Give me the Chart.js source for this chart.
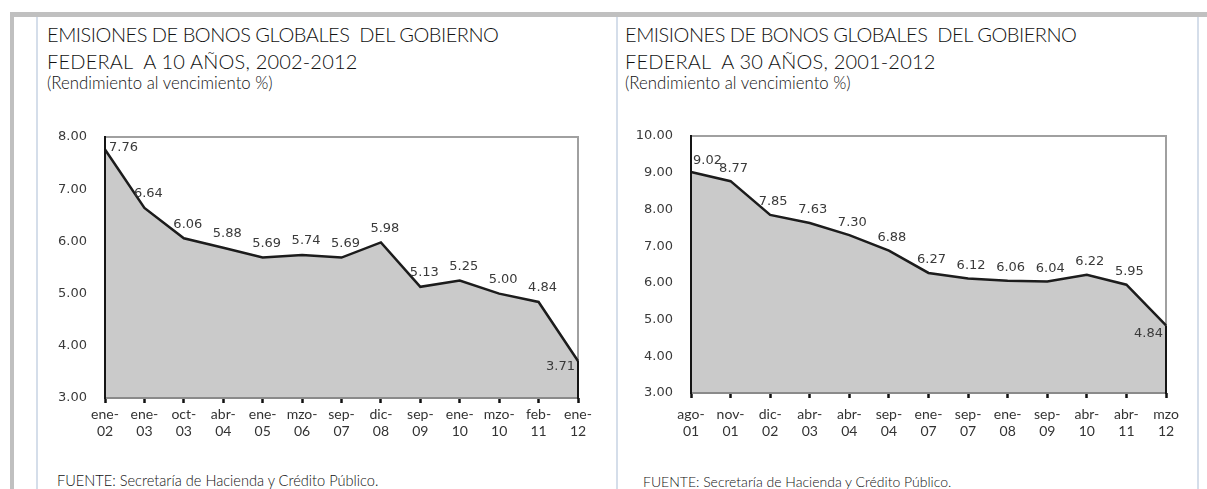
<!DOCTYPE html>
<html>
<head>
<meta charset="utf-8">
<script src="https://cdn.jsdelivr.net/npm/chart.js@4.4.1/dist/chart.umd.min.js"></script>
<style>
  html, body { margin:0; padding:0; background:#fff; }
  body { width:1207px; height:489px; position:relative; overflow:hidden; font-family:Lato, "Open Sans", sans-serif; color:#222; }
  .band { position:absolute; background:#c0c0c0; }
  .pline { position:absolute; background:#d5deea; }
  .title { position:absolute; font-size:20px; font-weight:300; line-height:27px; white-space:nowrap; color:#111; }
  .l1 { letter-spacing:-0.47px; }
  .l2 { letter-spacing:0.18px; }
  .sub { position:absolute; font-size:16.8px; font-weight:300; line-height:20px; white-space:nowrap; color:#111; }
  .src { position:absolute; font-size:14px; font-weight:300; line-height:18px; white-space:nowrap; color:#111; }
  canvas { position:absolute; }
</style>
</head>
<body>
<div class="band" style="left:10px;top:12px;width:1197px;height:5px;"></div>
<div class="band" style="left:10px;top:12px;width:4px;height:477px;"></div>
<div class="pline" style="left:36px;top:17px;width:2px;height:472px;"></div>
<div class="pline" style="left:616px;top:17px;width:2px;height:472px;"></div>
<div class="pline" style="left:1197px;top:17px;width:2px;height:472px;"></div>

<div class="title" style="left:47px;top:21px;"><span class="l1">EMISIONES DE BONOS GLOBALES&nbsp; DEL GOBIERNO</span><br><span class="l2">FEDERAL&nbsp; A 10 AÑOS, 2002-2012</span></div>
<div class="sub" style="left:47px;top:73px;">(Rendimiento al vencimiento %)</div>
<div class="src" style="left:57px;top:472px;font-size:14.6px;">FUENTE: Secretaría de Hacienda y Crédito Público.</div>

<div class="title" style="left:625px;top:21px;"><span class="l1">EMISIONES DE BONOS GLOBALES&nbsp; DEL GOBIERNO</span><br><span class="l2">FEDERAL&nbsp; A 30 AÑOS, 2001-2012</span></div>
<div class="sub" style="left:625px;top:73px;">(Rendimiento al vencimiento %)</div>
<div class="src" style="left:643px;top:473px;">FUENTE: Secretaría de Hacienda y Crédito Público.</div>

<canvas id="c10" width="560" height="332" style="left:40px;top:121px;"></canvas>
<canvas id="c30" width="562" height="328" style="left:626px;top:120px;"></canvas>

<script>
// ---- Data ----
const categories10 = [["ene-","02"],["ene-","03"],["oct-","03"],["abr-","04"],["ene-","05"],["mzo-","06"],["sep-","07"],["dic-","08"],["sep-","09"],["ene-","10"],["mzo-","10"],["feb-","11"],["ene-","12"]];
const yields10 = [7.76, 6.64, 6.06, 5.88, 5.69, 5.74, 5.69, 5.98, 5.13, 5.25, 5.00, 4.84, 3.71];
const yRange10 = [3, 8];

const categories30 = [["ago-","01"],["nov-","01"],["dic-","02"],["abr-","03"],["abr-","04"],["sep-","04"],["ene-","07"],["sep-","07"],["ene-","08"],["sep-","09"],["abr-","10"],["abr-","11"],["mzo","12"]];
const yields30 = [9.02, 8.77, 7.85, 7.63, 7.30, 6.88, 6.27, 6.12, 6.06, 6.04, 6.22, 5.95, 4.84];
const yRange30 = [3, 10];

// ---- Plugins ----
const framePlugin = {
  id: 'frame',
  beforeDatasetsDraw(chart) {
    const {ctx, chartArea: {left, right, top, bottom}} = chart;
    ctx.save();
    ctx.strokeStyle = '#a0a0a0';
    ctx.lineWidth = 2;
    ctx.beginPath();
    ctx.moveTo(left, top); ctx.lineTo(right, top); ctx.lineTo(right, bottom);
    ctx.stroke();
    ctx.restore();
  },
  afterDatasetsDraw(chart) {
    const {ctx, chartArea: {left, right, top, bottom}} = chart;
    const meta = chart.getDatasetMeta(0);
    const pts = meta.data;
    const last = pts[pts.length - 1];
    ctx.save();
    ctx.strokeStyle = '#8a8a8a';
    ctx.lineWidth = 2;
    ctx.beginPath(); ctx.moveTo(left, bottom); ctx.lineTo(right, bottom); ctx.stroke();
    ctx.strokeStyle = '#151515';
    ctx.lineWidth = 2;
    ctx.beginPath();
    ctx.moveTo(left, top - 1); ctx.lineTo(left, bottom + 1);
    ctx.moveTo(last.x, last.y); ctx.lineTo(last.x, bottom + 1);
    ctx.stroke();
    const o = chart.options.plugins.valueLabels;
    const vals = chart.data.datasets[0].data;
    ctx.font = '13px "DejaVu Sans", Verdana, sans-serif';
    ctx.fillStyle = '#3a3a3a';
    ctx.textBaseline = 'middle';
    pts.forEach((p, i) => {
      let cfg = o.mid;
      if (i === 0) cfg = o.first;
      else if (i === pts.length - 1) cfg = o.last;
      ctx.textAlign = cfg.align;
      ctx.fillText(vals[i].toFixed(2), p.x + cfg.dx, p.y + cfg.dy);
    });
    ctx.restore();
  }
};

function buildChart(id, categories, values, range, xPad, labelOpts) {
  return new Chart(document.getElementById(id), {
    type: 'line',
    data: {
      labels: categories,
      datasets: [{
        data: values,
        borderColor: '#1c1c1c',
        borderWidth: 2.5,
        backgroundColor: '#cacaca',
        fill: 'start',
        pointRadius: 0,
        tension: 0
      }]
    },
    options: {
      responsive: false,
      animation: false,
      devicePixelRatio: 1,
      layout: { padding: { top: 16, right: 22, left: 0, bottom: 0 } },
      plugins: {
        legend: { display: false },
        tooltip: { enabled: false },
        valueLabels: labelOpts
      },
      scales: {
        x: {
          offset: false,
          afterFit(s) { s.height = 55; },
          border: { display: false },
          grid: { drawOnChartArea: false, drawTicks: true, tickLength: 5, tickWidth: 2.5, tickColor: '#111' },
          ticks: { autoSkip: false, maxRotation: 0, padding: xPad, color: '#333',
                   font: { family: 'Lato', size: 14, lineHeight: 1.22 } }
        },
        y: {
          min: range[0], max: range[1],
          afterFit(s) { s.width = 65; },
          border: { display: false },
          grid: { display: true, drawOnChartArea: false, drawTicks: true, tickLength: 18, tickColor: 'rgba(0,0,0,0)' },
          ticks: { stepSize: 1, padding: 0, color: '#3a3a3a',
                   font: { family: 'DejaVu Sans', size: 13 },
                   callback: v => Number(v).toFixed(2) }
        }
      }
    },
    plugins: [framePlugin]
  });
}

buildChart('c10', categories10, yields10, yRange10, 2.5, {
  first: { dx: 4, dy: -2, align: 'left' },
  mid:   { dx: 4, dy: -14, align: 'center' },
  last:  { dx: -3, dy: 6, align: 'right' }
});
buildChart('c30', categories30, yields30, yRange30, 7.5, {
  first: { dx: 2, dy: -11, align: 'left' },
  mid:   { dx: 3, dy: -13, align: 'center' },
  last:  { dx: -3, dy: 8, align: 'right' }
});
</script>
</body>
</html>
